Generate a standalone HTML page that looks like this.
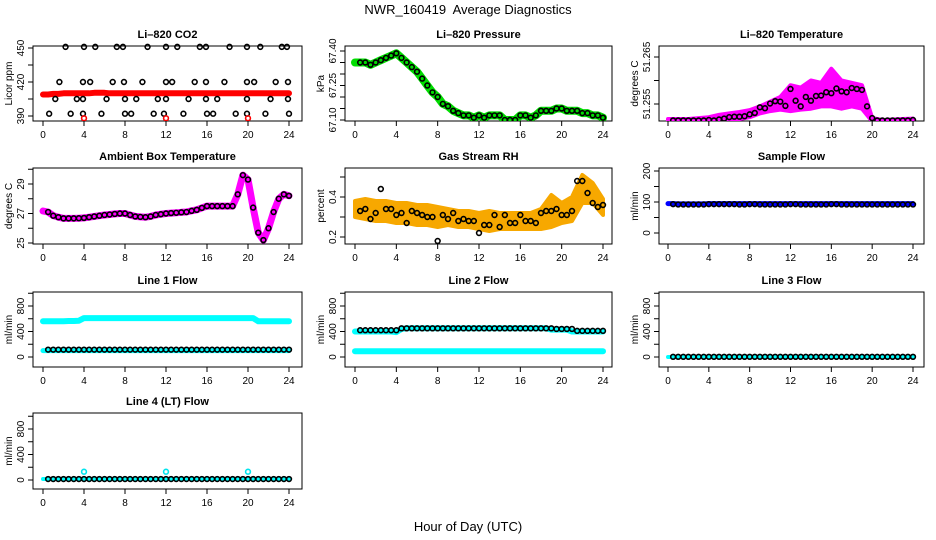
<!DOCTYPE html>
<html><head><meta charset="utf-8">
<style>
html,body{margin:0;padding:0;background:#fff;}
svg{display:block;font-family:"Liberation Sans",Arial,sans-serif;}
</style></head>
<body>
<svg id="c" width="936" height="540" viewBox="0 0 936 540" xmlns="http://www.w3.org/2000/svg">
<text x="468" y="14" text-anchor="middle" font-size="13">NWR_160419&#160; Average Diagnostics</text>
<text x="468" y="531" text-anchor="middle" font-size="13">Hour of Day (UTC)</text>
</svg>
<script>
// ---- data ----
const halfHours = [0,0.5,1,1.5,2,2.5,3,3.5,4,4.5,5,5.5,6,6.5,7,7.5,8,8.5,9,9.5,10,10.5,11,11.5,12,12.5,13,13.5,14,14.5,15,15.5,16,16.5,17,17.5,18,18.5,19,19.5,20,20.5,21,21.5,22,22.5,23,23.5,24];
const hours = [0,1,2,3,4,5,6,7,8,9,10,11,12,13,14,15,16,17,18,19,20,21,22,23,24];
const xTicks = [0,4,8,12,16,20,24];

const co2Red = [409,409,409.5,409.5,410,410,410,410,410,410,410.5,410.5,410.5,410,410,410,410,410,410,410,410,410,410,410,410,410,410,410,410,410,410,410,410,410,410,410,410,410,410,410,410,410,410,410,410,410,410,410,410];
const co2BlackH = [2.2,4.0,5.1,7.2,7.8,10.2,12.0,13.1,15.3,15.9,18.2,19.9,21.2,23.3,23.8, 1.6,3.9,4.6,6.8,7.9,9.7,12.0,12.6,14.8,15.9,17.7,19.9,20.6,22.7,23.9, 1.2,3.3,3.9,6.2,8.0,9.1,11.2,12.0,14.2,15.9,17.0,19.9,22.2,23.9, 0.6,2.7,3.9,5.7,8.0,8.6,10.8,11.8,13.7,16.0,16.6,18.8,19.9,21.7,24.0];
const co2BlackV = [451,451,451,451,451,451,451,451,451,451,451,451,451,451,451, 420,420,420,420,420,420,420,420,420,420,420,420,420,420,420, 405,405,405,405,405,405,405,405,405,405,405,405,405,405, 392,392,392,392,392,392,392,392,392,392,392,392,392,392,392];
const co2OutH = [4,12,20];
const co2OutV = [388,388,388];

const pressure = [67.35,67.35,67.35,67.34,67.35,67.36,67.37,67.38,67.39,67.37,67.35,67.33,67.31,67.28,67.25,67.22,67.20,67.17,67.16,67.14,67.13,67.12,67.12,67.11,67.12,67.11,67.12,67.12,67.12,67.10,67.10,67.10,67.12,67.12,67.11,67.12,67.14,67.14,67.14,67.15,67.15,67.14,67.14,67.14,67.13,67.13,67.12,67.12,67.11];

const tempBlack = [51.2515,51.2515,51.2515,51.2515,51.2515,51.2515,51.2515,51.2515,51.2516,51.2515,51.2517,51.2519,51.2522,51.2523,51.2523,51.2524,51.2528,51.2531,51.2543,51.2541,51.2551,51.2556,51.2555,51.2546,51.2582,51.2557,51.2545,51.2565,51.2557,51.2567,51.2568,51.2575,51.2573,51.2583,51.2577,51.2575,51.2584,51.2582,51.2580,51.2545,51.2520,51.2515,51.2515,51.2515,51.2515,51.2515,51.2515,51.2515,51.2516];
const tempUpper = [51.2518,51.2518,51.2518,51.2520,51.2522,51.2527,51.2530,51.2533,51.2537,51.2545,51.2555,51.2565,51.2590,51.2585,51.2600,51.2595,51.2625,51.2600,51.2595,51.2590,51.2520,51.2516,51.2517,51.2518,51.2519];
const tempLower = [51.2513,51.2513,51.2513,51.2513,51.2513,51.2514,51.2516,51.2518,51.2522,51.2530,51.2535,51.2538,51.2535,51.2538,51.2540,51.2545,51.2545,51.2540,51.2545,51.2540,51.2513,51.2513,51.2513,51.2513,51.2513];

const ambient = [27.17,27.1,26.85,26.75,26.67,26.67,26.67,26.68,26.7,26.75,26.8,26.85,26.9,26.93,26.97,27.0,27.0,26.9,26.8,26.77,26.75,26.8,26.9,26.95,27.0,27.03,27.05,27.08,27.1,27.18,27.25,27.38,27.5,27.5,27.5,27.5,27.5,27.5,28.3,29.6,29.3,27.4,25.7,25.2,26.0,27.1,28.0,28.3,28.2];

const rhCenter = [0.34,0.34,0.33,0.33,0.32,0.32,0.31,0.31,0.30,0.30,0.29,0.29,0.28,0.28,0.28,0.28,0.28,0.28,0.29,0.33,0.32,0.34,0.44,0.42,0.35];
const rhSpread = [0.04,0.05,0.05,0.05,0.05,0.05,0.05,0.05,0.05,0.04,0.04,0.04,0.04,0.05,0.04,0.04,0.04,0.04,0.05,0.08,0.05,0.06,0.07,0.05,0.04];
const rhBlack = [0.33,0.33,0.34,0.29,0.32,0.44,0.34,0.34,0.31,0.32,0.27,0.33,0.32,0.31,0.30,0.30,0.18,0.31,0.29,0.32,0.28,0.29,0.28,0.28,0.22,0.26,0.26,0.31,0.25,0.31,0.27,0.27,0.31,0.28,0.28,0.27,0.32,0.33,0.33,0.34,0.31,0.31,0.33,0.48,0.48,0.42,0.37,0.35,0.36];

const sampleBlue = [95,95,94,94,94,94,94,94,95,95,95,95,95,95,95,95,95,95,95,95,95,95,95,95,95,95,95,95,95,95,95,95,95,95,95,95,95,95,95,95,95,95,95,95,95,95,95,95,95];
const sampleBlack = [93,93,92,92,92,92,92,92,93,93,93,93,93,93,92,92,93,93,92,92,92,92,92,92,93,93,92,92,92,92,92,92,93,93,92,92,92,92,92,92,92,92,92,92,92,92,92,92,92];

const line1Hi = [560,560,560,560,560,565,565,570,610,610,610,610,610,610,610,610,610,610,610,610,610,610,610,610,610,610,610,610,610,610,610,610,610,610,610,610,610,610,610,610,610,610,560,560,560,560,560,560,560];
const line1Lo = [100,100,100,100,100,100,100,100,100,100,100,100,100,100,100,100,100,100,100,100,100,100,100,100,100,100,100,100,100,100,100,100,100,100,100,100,100,100,100,100,100,100,100,100,100,100,100,100,100];
const line1Black = [115,115,115,115,115,115,115,115,115,115,115,115,115,115,115,115,115,115,115,115,115,115,115,115,115,115,115,115,115,115,115,115,115,115,115,115,115,115,115,115,115,115,115,115,115,115,115,115,115];

const line2Hi = [400,400,400,400,400,400,400,400,390,440,450,450,450,450,450,450,450,450,450,450,450,450,450,450,450,450,450,450,450,450,450,450,450,450,450,450,450,450,430,430,430,430,400,400,400,400,400,400,400];
const line2Lo = [90,90,90,90,90,90,90,90,90,90,90,90,90,90,90,90,90,90,90,90,90,90,90,90,90,90,90,90,90,90,90,90,90,90,90,90,90,90,90,90,90,90,90,90,90,90,90,90,90];
const line2Black = [420,420,420,420,420,420,420,420,420,450,450,450,450,450,450,450,450,450,450,450,450,450,450,450,450,450,450,450,450,450,450,450,450,450,450,450,450,450,450,440,440,440,440,410,410,410,410,410,410];

const line3Cyan = [0,0,0,0,0,0,0,0,0,0,0,0,0,0,0,0,0,0,0,0,0,0,0,0,0,0,0,0,0,0,0,0,0,0,0,0,0,0,0,0,0,0,0,0,0,0,0,0,0];
const line3Black = [3,3,3,3,3,3,3,3,3,3,3,3,3,3,3,3,3,3,3,3,3,3,3,3,3,3,3,3,3,3,3,3,3,3,3,3,3,3,3,3,3,3,3,3,3,3,3,3,3];

const line4Cyan = [15,15,15,15,15,15,15,15,15,15,15,15,15,15,15,15,15,15,15,15,15,15,15,15,15,15,15,15,15,15,15,15,15,15,15,15,15,15,15,15,15,15,15,15,15,15,15,15,15];
const line4BlipH = [4,12,20];
const line4BlipV = [130,130,130];
const line4Black = [15,15,15,15,15,15,15,15,15,15,15,15,15,15,15,15,15,15,15,15,15,15,15,15,15,15,15,15,15,15,15,15,15,15,15,15,15,15,15,15,15,15,15,15,15,15,15,15,15];

// ---- layout ----
const svg = document.getElementById('c');
const NS = 'http://www.w3.org/2000/svg';
const colBox = [[33,302],[345,612],[659,924]];
const colX = [[43,289],[355,603],[668,913]];
const rowBox = [[46,121],[168,244],[292,367],[413,489]];

function mk(tag, attrs, parent){
  const e = document.createElementNS(NS, tag);
  for (const k in attrs) e.setAttribute(k, attrs[k]);
  (parent||svg).appendChild(e);
  return e;
}

function panel(name, col, row, title, ylab, v1, p1, v2, p2, ticks, labels, fmt){
  const g = mk('g', {});
  
  
  const [bl, br] = colBox[col], [bt, bb] = rowBox[row];
  const xs = h => colX[col][0] + (colX[col][1]-colX[col][0]) * h / 24;
  const ys = v => p1 + (v - v1) * (p2 - p1) / (v2 - v1);
  const box = mk('rect', {x:bl, y:bt, width:br-bl, height:bb-bt, fill:'none', stroke:'#000', 'stroke-width':1}, g);
  
  
  const t = mk('text', {x:(bl+br)/2, y:bt-8, 'text-anchor':'middle', 'font-size':11, 'font-weight':'bold'}, g);
  t.textContent = title;
  
  
  xTicks.forEach(h => {
    mk('line', {x1:xs(h), x2:xs(h), y1:bb, y2:bb+5, stroke:'#000'}, g);
    const l = mk('text', {x:xs(h), y:bb+17, 'text-anchor':'middle', 'font-size':10}, g);
    l.textContent = h;
    
    
  });
  ticks.forEach(v => {
    const y = ys(v);
    mk('line', {x1:bl-5, x2:bl, y1:y, y2:y, stroke:'#000'}, g);
  });
  labels.forEach(v => {
    const y = ys(v);
    const l = mk('text', {x:0, y:0, 'text-anchor':'middle', 'font-size':10, transform:`translate(${bl-9},${y}) rotate(-90)`}, g);
    l.textContent = fmt ? fmt(v) : v;
    
    
  });
  const yl = mk('text', {x:0, y:0, 'text-anchor':'middle', 'font-size':10, transform:`translate(${bl-21},${(bt+bb)/2}) rotate(-90)`}, g);
  yl.textContent = ylab;
  
  
  const clip = 'clip-' + name;
  const cp = mk('clipPath', {id:clip}, g);
  mk('rect', {x:bl, y:bt-6, width:br-bl, height:bb-bt+6}, cp);
  const pg = mk('g', {'clip-path':`url(#${clip})`}, g);
  return {g: pg, xs, ys};
}

function band(P, xsArr, vals, color, w, name){
  const pts = xsArr.map((h,i) => P.xs(h).toFixed(1) + ',' + P.ys(vals[i]).toFixed(1)).join(' ');
  const e = mk('polyline', {points:pts, fill:'none', stroke:color, 'stroke-width':w, 'stroke-linejoin':'round', 'stroke-linecap':'round'}, P.g);
  
  
}
function area(P, xsArr, lo, hi, color, name){
  let pts = xsArr.map((h,i) => P.xs(h).toFixed(1)+','+P.ys(hi[i]).toFixed(1));
  pts = pts.concat(xsArr.map((h,i)=>[h,i]).reverse().map(([h,i]) => P.xs(h).toFixed(1)+','+P.ys(lo[i]).toFixed(1)));
  const e = mk('polygon', {points:pts.join(' '), fill:color, stroke:color, 'stroke-width':4, 'stroke-linejoin':'round'}, P.g);
  
  
}
function circles(P, xsArr, vals, color, name, skipFirst){
  xsArr.forEach((h,i) => {
    if (skipFirst && i === 0) return;
    const c = mk('circle', {cx:P.xs(h), cy:P.ys(vals[i]), r:2.4, fill:'none', stroke:color, 'stroke-width':1.6}, P.g);
    
    
  });
}

let P = panel('co2', 0, 0, 'Li\u2013820 CO2', 'Licor ppm', 390, 116, 450, 48, [390,405,420,435,450], [390,420,450]);
band(P, halfHours, co2Red, '#ff0000', 6, 'co2-red-series');
circles(P, co2BlackH, co2BlackV, '#000', 'co2-black-point');
circles(P, co2OutH, co2OutV, '#ff0000', 'co2-red-outlier');

P = panel('pressure', 1, 0, 'Li\u2013820 Pressure', 'kPa', 67.10, 120, 67.40, 51, [67.10,67.15,67.20,67.25,67.30,67.35,67.40], [67.10,67.25,67.40], v=>v.toFixed(2));
band(P, halfHours, pressure, '#00dd00', 8, 'pressure-green-series');
circles(P, halfHours, pressure, '#000', 'pressure-black-point', true);

P = panel('temperature', 2, 0, 'Li\u2013820 Temperature', 'degrees C', 51.255, 104, 51.265, 57, [51.255,51.26,51.265], [51.255,51.265], v=>v.toFixed(3));
area(P, hours, tempLower, tempUpper, '#ff00ff', 'temperature-magenta-cloud');
circles(P, halfHours, tempBlack, '#000', 'temperature-black-point', true);

P = panel('ambient', 0, 1, 'Ambient Box Temperature', 'degrees C', 25, 243, 29, 184, [25,26,27,28,29,30], [25,27,29]);
band(P, halfHours, ambient, '#ff00ff', 7, 'ambient-magenta-series');
circles(P, halfHours, ambient, '#000', 'ambient-black-point', true);

P = panel('rh', 1, 1, 'Gas Stream RH', 'percent', 0.2, 237, 0.4, 197, [0.2,0.3,0.4,0.5], [0.2,0.4]);
const rhLo = rhCenter.map((v,i)=>v-rhSpread[i]);
const rhHi = rhCenter.map((v,i)=>v+rhSpread[i]);
area(P, hours, rhLo, rhHi, '#f7a800', 'rh-orange-cloud');
circles(P, halfHours, rhBlack, '#000', 'rh-black-point', true);

P = panel('sample-flow', 2, 1, 'Sample Flow', 'ml/min', 0, 233, 200, 171, [0,50,100,150,200], [0,100,200]);
band(P, halfHours, sampleBlue, '#0000ff', 5, 'sample-flow-blue-series');
circles(P, halfHours, sampleBlack, '#000', 'sample-flow-black-point', true);

const flowTicks = [0,200,400,600,800,1000];
const flowLabels = [0,400,800];
P = panel('line1-flow', 0, 2, 'Line 1 Flow', 'ml/min', 0, 357, 800, 306, flowTicks, flowLabels);
band(P, halfHours, line1Hi, '#00ffff', 6, 'line1-cyan-upper');
band(P, halfHours, line1Lo, '#00ffff', 5, 'line1-cyan-lower');
circles(P, halfHours, line1Black, '#000', 'line1-black-point', true);

P = panel('line2-flow', 1, 2, 'Line 2 Flow', 'ml/min', 0, 357, 800, 306, flowTicks, flowLabels);
band(P, halfHours, line2Hi, '#00ffff', 6, 'line2-cyan-upper');
band(P, halfHours, line2Lo, '#00ffff', 6, 'line2-cyan-lower');
circles(P, halfHours, line2Black, '#000', 'line2-black-point', true);

P = panel('line3-flow', 2, 2, 'Line 3 Flow', 'ml/min', 0, 357, 800, 306, flowTicks, flowLabels);
band(P, halfHours, line3Cyan, '#00ffff', 4, 'line3-cyan-series');
circles(P, halfHours, line3Black, '#000', 'line3-black-point', true);

P = panel('line4-flow', 0, 3, 'Line 4 (LT) Flow', 'ml/min', 0, 480, 800, 429, flowTicks, flowLabels);
band(P, halfHours, line4Cyan, '#00ffff', 4, 'line4-cyan-series');
circles(P, line4BlipH, line4BlipV, '#00e5ee', 'line4-cyan-blip');
circles(P, halfHours, line4Black, '#000', 'line4-black-point', true);
</script>
</body></html>
